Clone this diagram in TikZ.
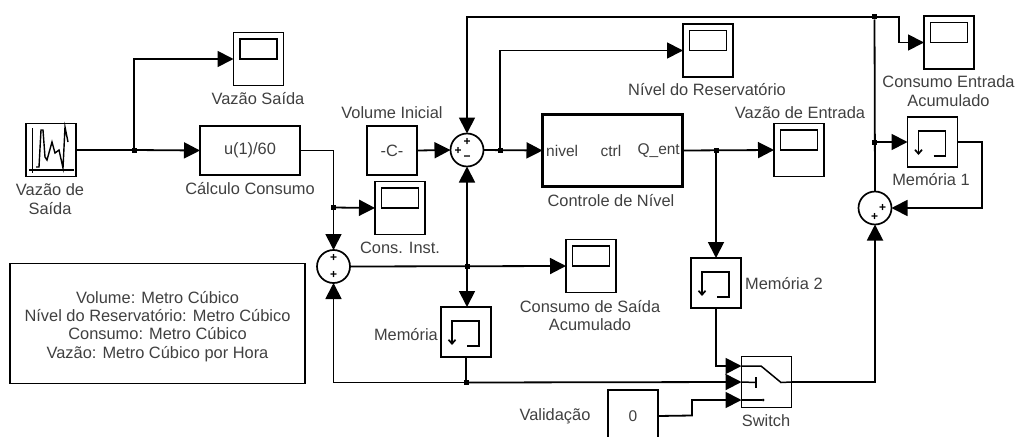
\documentclass[tikz,border=0pt]{standalone}
\usepackage{fontspec}
\setmainfont{Liberation Sans}
\usetikzlibrary{arrows.meta,calc}
\definecolor{txt}{gray}{0.25}
\tikzset{
  x=1pt,y=-1pt,
  blockbox/.style={draw=black,line width=1.7pt,fill=white,minimum width=50pt,minimum height=50pt,inner sep=0pt,outer sep=0pt},
  scopebox/.style={blockbox,minimum height=53pt},
  ctrlbox/.style={draw=black,line width=3.6pt,fill=white,minimum width=140pt,minimum height=72pt,inner sep=0pt,outer sep=0pt},
  sumnode/.style={circle,draw=black,line width=1.7pt,fill=white,minimum size=33pt,inner sep=0pt,outer sep=0pt},
  jdot/.style={rectangle,fill=black,minimum size=5pt,inner sep=0pt,outer sep=0pt},
  sig/.style={line width=1.8pt,line join=miter,-{Triangle[length=16pt,width=16pt]}},
  wire/.style={line width=1.8pt,line join=miter},
  icon/.style={line width=1.5pt},
  lab/.style={text=txt,font=\fontsize{16.4}{18.8}\selectfont,inner sep=0pt,align=center},
  portlab/.style={text=txt,font=\fontsize{15.5}{18}\selectfont,inner sep=0pt},
  sgn/.style={font=\fontsize{12}{12}\selectfont\bfseries,inner sep=0pt,text=black},
}
\newcommand{\scopeat}[3]{%
  \node[scopebox] (#1) at (#2,#3) {};
  \draw[icon,line width=1.7pt] ($(#1.center)+(-18.5,-20)$) rectangle ($(#1.center)+(18.5,0)$);
}
\newcommand{\memat}[3]{%
  \node[blockbox] (#1) at (#2,#3) {};
  \draw[icon,line width=1.7pt,-{Straight Barb[length=4pt,width=7pt]}] ($(#1.center)+(1,14)$) -- ++(12,0) -- ++(0,-25) -- ++(-27,0) -- ++(0,24);
}
\begin{document}
\begin{tikzpicture}
\useasboundingbox (0,0) rectangle (1016,436);
\fill[white] (0,0) rectangle (1016,436);

% blocks
\node[blockbox,minimum height=53pt] (src) at (51,150) {};
\draw[line width=1.1pt] (32.3,128) -- (32.3,173) (29.3,170) -- (74,170);
\draw[line width=1.4pt] (36,167) -- (39,167) -- (41,130) -- (43,130) -- (45,157) -- (47,160) -- (52,142) -- (55,153) -- (59,150) -- (63,168) -- (65,127) -- (68,142);
\node[lab] (srclab) at (50,199.5) {Vazão de\\Saída};

\scopeat{scA}{258.5}{59}
\node[lab] (scAlab) at (258,99) {Vazão Saída};
\node[blockbox,minimum width=100pt,minimum height=49pt,text=txt,font=\fontsize{16.4}{18}\selectfont] (fcn) at (250,150.5) {u(1)/60};
\node[lab] (fcnlab) at (250,189) {Cálculo Consumo};
\node[blockbox,minimum height=49pt,text=txt,font=\fontsize{16.4}{18}\selectfont] (const) at (392,150.5) {-C-};
\node[lab] (constlab) at (392,113) {Volume Inicial};
\scopeat{scB}{400}{208}
\node[lab] (scBlab) at (400,248) {Cons. Inst.};
\node[sumnode] (sumA) at (333.5,266.5) {};
\node[sgn] at (333.5,258) {+};
\node[sgn] at (333.5,275) {+};
\node[sumnode] (sumB) at (467,150) {};
\node[sgn] at (467,141.5) {+};
\node[sgn] at (458,150.5) {+};
\node[sgn] at (467,158.5) {\textminus};
\node[sumnode] (sumC) at (875,208) {};
\node[sgn] at (882.5,208) {+};
\node[sgn] at (874.5,217) {+};

\node[ctrlbox] (ctrl) at (612.5,150.5) {};
\node[portlab,anchor=west] (pA) at (546,150.5) {nivel};
\node[portlab] (pB) at (611,150.5) {ctrl};
\node[portlab,anchor=east] (pC) at (680,150.5) {Q\_ent};
\node[lab] (ctrllab) at (611,201) {Controle de Nível};

\scopeat{scC}{708}{50.5}
\node[lab] (scClab) at (707,90) {Nível do Reservatório};
\scopeat{scD}{799}{150}
\node[lab] (scDlab) at (800,113) {Vazão de Entrada};
\scopeat{scE}{949}{42.5}
\node[lab] (scElab) at (948.5,91.5) {Consumo Entrada\\Acumulado};
\memat{memA}{932.5}{142}
\node[lab] (memAlab) at (931,180) {Memória 1};
\scopeat{scF}{591}{266}
\node[lab] (scFlab) at (590,315.5) {Consumo de Saída\\Acumulado};
\memat{memB}{466}{332}
\node[lab,anchor=east] (memBlab) at (438,335) {Memória};
\memat{memC}{716}{283}
\node[lab,anchor=west] (memClab) at (745,284) {Memória 2};

\node[blockbox,minimum height=51pt] (sw) at (766.5,382) {};
\node[lab] (swlab) at (766,421) {Switch};
\draw[icon] (sw.west |- 0,366) -- (761,366) -- (781,382.5) -- (sw.east);
\draw[icon] (sw.west) -- (756,382.5);
\draw[line width=2pt] (756,377) -- (756,388);
\draw[icon] (sw.west |- 0,400) -- (762,400);
\fill (763,400) circle (1.5pt);

\node[blockbox,minimum height=52pt,text=txt,font=\fontsize{15.5}{18}\selectfont] (val) at (633,416) {0};
\node[lab] (vallab) at (555,416) {Validação};

\node[draw=black,line width=1.7pt,minimum width=295pt,minimum height=120pt,inner sep=0pt] (note) at (157.5,323.5) {};
\node[text=txt,align=center,inner sep=0pt,font=\fontsize{16.4}{18.3}\selectfont] (notetext) at (157.5,326.5)
  {Volume: Metro Cúbico\\Nível do Reservatório: Metro Cúbico\\Consumo: Metro Cúbico\\Vazão: Metro Cúbico por Hora};

% junctions
\node[jdot] (jA) at (134,150) {};
\node[jdot] (jB) at (333.5,207.5) {};
\node[jdot] (jC) at (467,266.5) {};
\node[jdot] (jD) at (466,382.5) {};
\node[jdot] (jE) at (500,150) {};
\node[jdot] (jF) at (716,150) {};
\node[jdot] (jG) at (874.5,17) {};
\node[jdot] (jH) at (874.5,142) {};

\coordinate (swA) at (sw.west |- 0,366);
\coordinate (swB) at (sw.west);
\coordinate (swC) at (sw.west |- 0,400);

% connectors
\draw[wire] (src.east) -- (jA);
\draw[sig] (jA) -- (fcn.west);
\draw[sig] (jA) |- (scA.west);
\draw[wire] (fcn.east) -| (jB);
\draw[sig] (jB) -- (sumA.north);
\draw[sig] (jB) -- (scB.west);
\draw[sig] (const.east) -- (sumB.west);
\draw[sig] (sumB.east) -- (ctrl.west);
\draw[wire] (sumB.east) -- (jE);
\draw[sig] (jE) |- (scC.west);
\draw[sig] (ctrl.east) -- (scD.west);
\draw[sig] (jF) -- (memC.north);
\draw[sig] (jG) -- (sumB.north |- 0,17) -- (sumB.north);
\draw[sig] (jG) -- (899,17) |- (scE.west);
\draw[sig] (sumA.east) -- (scF.west);
\draw[sig] (jC) -- (sumB.south);
\draw[sig] (jC) -- (memB.north -| jC);
\draw[wire] (memB.south -| jD) -- (jD);
\draw[sig] (jD) -| (sumA.south);
\draw[sig] (jD) -- (swB);
\draw[sig] (memC.south) |- (swA);
\draw[sig] (val.east) -- (692,415.5) |- (swC);
\draw[sig] (sw.east) -| (sumC.south);
\draw[wire] (jG) -- (sumC.north);
\draw[sig] (jH) -- (memA.west);
\draw[sig] (memA.east) -- (982,142) |- (sumC.east);
\end{tikzpicture}
\end{document}
